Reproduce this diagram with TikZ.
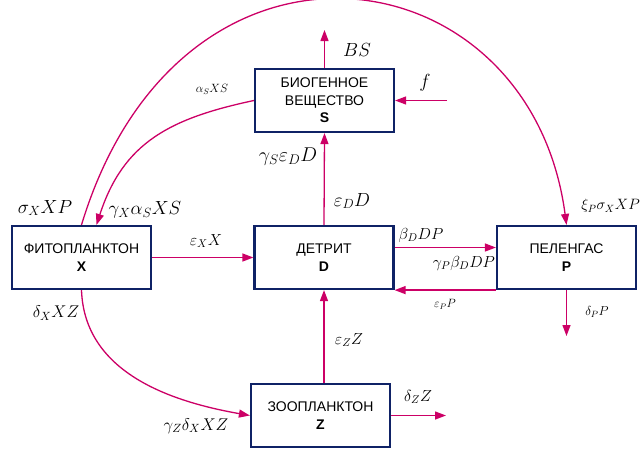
\RequirePackage{fix-cm}
\documentclass[tikz,border=0pt]{standalone}
\usepackage{fontspec}
\setsansfont{Liberation Sans}
\usetikzlibrary{arrows.meta}
\definecolor{boxblue}{HTML}{0F2266}
\definecolor{flowmag}{HTML}{CC0066}

\begin{document}
\begin{tikzpicture}[x=1pt,y=-1pt,
  blok/.style={draw=boxblue,line width=2.2pt,minimum width=139pt,minimum height=63pt,inner sep=0pt,align=center,font=\sffamily\fontsize{14}{17.5}\selectfont},
  flow/.style={flowmag,line width=1.3pt,-{Triangle[length=11pt,width=8pt]}},
  lbig/.style={inner sep=0pt,font=\fontsize{19}{20}\selectfont},
  lmid/.style={inner sep=0pt,font=\fontsize{16}{17}\selectfont},
  lsmall/.style={inner sep=0pt,font=\fontsize{12}{13}\selectfont}]
  \useasboundingbox (0,0) rectangle (640,448);
  \node[blok] (S) at (324.5,100.5) {БИОГЕННОЕ\\ВЕЩЕСТВО\\\textbf{S}};
  \node[blok] (X) at (81.5,257.5) {ФИТОПЛАНКТОН\\\textbf{X}};
  \node[blok] (D) at (324,257.5) {ДЕТРИТ\\\textbf{D}};
  \node[blok] (P) at (566.5,257.5) {ПЕЛЕНГАС\\\textbf{P}};
  \node[blok] (Z) at (320.5,415.5) {ЗООПЛАНКТОН\\\textbf{Z}};
  \coordinate (bsout) at (324.5,30);
  \coordinate (fin) at (447,100.5);
  \coordinate (pout) at (566.5,336);
  \coordinate (zout) at (446,415.5);
  \draw[flow] (S.north) -- (bsout);
  \draw[flow] (fin) -- (S.east);
  \draw[flow] (D.north) -- (S.south);
  \draw[flow] (X.east) -- (D.west);
  \draw[flow] ([yshift=10pt]D.east) -- ([yshift=10pt]P.west);
  \draw[flow] (P.south west) -- (D.south east);
  \draw[flow] (P.south) -- (pout);
  \draw[flow] (Z.north -| D.south) -- (D.south);
  \draw[flow] (Z.east) -- (zout);
  \draw[flow] (X.south) to[out=-88,in=170] (Z.west);
  \draw[flow] (S.west) to[out=192,in=72,looseness=1.1] ([xshift=15pt]X.north);
  \draw[flow] (X.north) .. controls (180,-100) and (530,-50) .. (P.north);
  \node[lbig] (bs) at (357,50) {$BS$};
  \node[lbig] (f) at (425,83) {$f$};
  \node[lsmall] (axs) at (212,89) {$\alpha_S XS$};
  \node[lbig,font=\fontsize{20}{21}\selectfont] (gsed) at (288,157) {$\gamma_S\varepsilon_D D$};
  \node[lbig] (sxp) at (45,208) {$\sigma_X XP$};
  \node[lbig] (gxaxs) at (145,210) {$\gamma_X\alpha_S XS$};
  \node[lbig] (ed) at (352,201) {$\varepsilon_D D$};
  \node[lmid,font=\fontsize{15}{16}\selectfont,anchor=east] (xpsxp) at (640,206) {$\xi_P\sigma_X XP$};
  \node[lmid] (exx) at (206,241) {$\varepsilon_X X$};
  \node[lmid,font=\fontsize{17}{18}\selectfont] (dxz) at (56,313) {$\delta_X XZ$};
  \node[lmid,font=\fontsize{17}{18}\selectfont] (gzdxz) at (196,426) {$\gamma_Z\delta_X XZ$};
  \node[lmid] (bddp) at (421,235) {$\beta_D DP$};
  \node[lmid] (gpbddp) at (464,263) {$\gamma_P\beta_D DP$};
  \node[lsmall] (epp) at (445,304) {$\varepsilon_P P$};
  \node[lsmall,font=\fontsize{13}{14}\selectfont] (dpp) at (597,312) {$\delta_P P$};
  \node[lmid] (ezz) at (349,340) {$\varepsilon_Z Z$};
  \node[lmid] (dzz) at (418,397) {$\delta_Z Z$};
\end{tikzpicture}
\end{document}
